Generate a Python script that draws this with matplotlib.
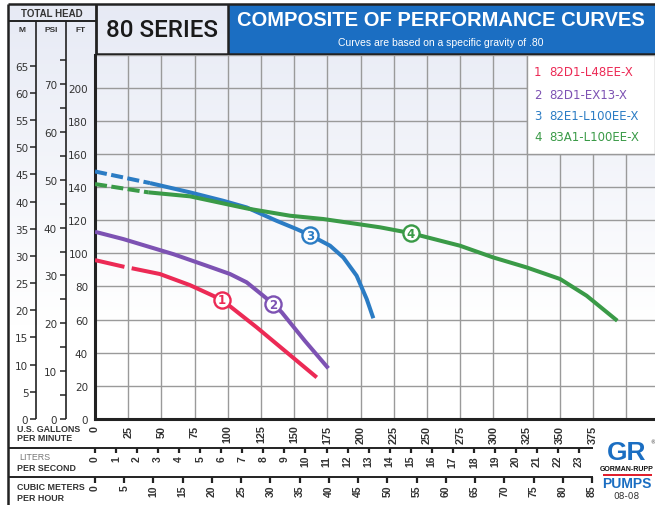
import numpy as np
import matplotlib
matplotlib.use("Agg")
import matplotlib.pyplot as plt
from matplotlib.patches import Rectangle

W, H = 655, 506  # 픽셀 단위 캔버스

# 축 눈금
gpm_ticks = list(range(0, 376, 25))
gpm_grid = list(range(25, 401, 25))
ft_ticks = list(range(0, 201, 20))
ft_grid = list(range(20, 221, 20))
psi_major = list(range(0, 71, 10))
psi_minor = list(range(5, 76, 10))
m_ticks = list(range(0, 66, 5))
ls_ticks = list(range(0, 24))
m3h_ticks = list(range(0, 86, 5))

# 단위 환산 (비중 0.80 기준)
SG = 0.80
FT_PER_M = 3.281
FT_PER_PSI = 2.31 / SG
GPM_PER_LS = 15.85
GPM_PER_M3H = 4.403

# 곡선 데이터 (GPM, FT) - 그림에서 읽은 값
red_gpm = [0, 23.9, 27.6, 48.9, 71.5, 95.4, 121.8, 146.8, 167.0]
red_ft = [95.9, 91.5, 91.0, 87.5, 80.8, 72.0, 55.3, 38.6, 25.1]
purple_gpm = [0, 21.3, 59.0, 84.1, 101.7, 114.2, 126.7, 134.3, 140.6, 158.0, 175.7]
purple_ft = [113.0, 108.6, 99.5, 92.5, 87.5, 82.5, 74.4, 69.4, 64.4, 47.2, 30.6]
blue_gpm = [0, 41.4, 71.5, 96.6, 114.2, 136.8, 151.9, 161.9, 177.0, 187.0, 197.0, 204.6, 209.6]
blue_ft = [149.4, 142.4, 136.8, 131.7, 127.7, 119.6, 114.6, 111.0, 104.6, 97.5, 86.5, 72.4, 60.8]
green_gpm = [0, 40.1, 71.5, 114.2, 146.8, 171.9, 214.6, 237.7, 274.8, 299.9, 325.0, 350.2, 370.2, 393.3]
green_ft = [141.8, 136.8, 134.4, 127.1, 122.7, 120.7, 115.7, 112.2, 104.6, 97.5, 91.5, 84.5, 74.4, 59.3]

curve_gpm = [red_gpm, purple_gpm, blue_gpm, green_gpm]
curve_ft = [red_ft, purple_ft, blue_ft, green_ft]
names = ["82D1-L48EE-X", "82D1-EX13-X", "82E1-L100EE-X", "83A1-L100EE-X"]
colors = ["#ec2a55", "#7d52b3", "#2b7cc4", "#3a9a47"]
dash_stop = [1, 0, 1, 1]     # 앞쪽 점선 구간 끝 인덱스
solid_start = [2, 0, 1, 1]   # 실선 시작 인덱스
label_gpm = [95.4, 134.3, 161.9, 237.7]

BLUE = "#1b6ec2"
DARK = "#222222"
TXT = "#333333"
GRID = "#9a9a9a"
COND = ["Liberation Sans Narrow", "Liberation Sans"]

plt.rcParams["font.family"] = "DejaVu Sans"

fig = plt.figure(figsize=(W / 100, H / 100), dpi=100)
fig.patch.set_facecolor("white")

# 배경 + 테두리 (픽셀 좌표)
bg = fig.add_axes([0, 0, 1, 1])
t = np.linspace(0, 1, 200)[:, None, None]
top = np.array([0.905, 0.918, 0.960])
grad = top + (1 - top) * np.clip(t * 1.3, 0, 1)
bg.imshow(grad, extent=[8, 655, 420, 5], aspect="auto", interpolation="bilinear")
bg.set_xlim(0, W)
bg.set_ylim(H, 0)
bg.axis("off")

def seg(x0, y0, x1, y1, lw=1.4, color=DARK):
    bg.plot([x0, x1], [y0, y1], color=color, lw=lw, solid_capstyle="butt")

bg.add_patch(Rectangle((228, 5), 427, 49.5, fc=BLUE, ec="none"))
seg(8, 5, 655, 5, 1.8)
seg(8, 5, 8, 506, 1.8)
seg(8, 22, 96, 22, 1.4)
seg(36, 22, 36, 420, 1.2)
seg(66, 22, 66, 420, 1.2)
seg(95.5, 5, 95.5, 56, 2.0)
seg(228, 5, 228, 55, 1.8)
seg(95.5, 54.5, 655, 54.5, 1.8)
seg(8, 449, 593, 449, 1.4)
seg(8, 478, 593, 478, 1.4)

bg.text(52, 13.5, "TOTAL HEAD", ha="center", va="center", fontsize=7, fontweight="bold",
        color=TXT, family="Liberation Sans")
for x, s in [(22, "M"), (51, "PSI"), (81, "FT")]:
    bg.text(x, 30, s, ha="center", va="center", fontsize=6, fontweight="bold",
            color=TXT, family="Liberation Sans")
bg.text(162, 30, "80 SERIES", ha="center", va="center", fontsize=17.5, fontweight=500,
        color="#1a1a1a", family=["Roboto", "Liberation Sans"])
bg.text(441, 20, "COMPOSITE OF PERFORMANCE CURVES", ha="center", va="center", fontsize=14.5,
        fontweight="bold", color="white", family="Liberation Sans")
bg.text(441, 43, "Curves are based on a specific gravity of .80", ha="center", va="center",
        fontsize=7.5, color="white", family="Liberation Sans")

# 하단 좌측 라벨
lab = dict(ha="left", va="center", fontsize=6.4, fontweight="bold", color=TXT, family=COND)
bg.text(17, 430, "U.S. GALLONS", **lab)
bg.text(17, 439, "PER MINUTE", **lab)
bg.text(19, 458, "LITERS", ha="left", va="center", fontsize=6.4, color="#777777", family=COND)
bg.text(17, 469, "PER SECOND", **lab)
bg.text(17, 488, "CUBIC METERS", **lab)
bg.text(17, 499, "PER HOUR", **lab)

# 로고
bg.text(627, 453, "GR", ha="center", va="center", fontsize=19, fontweight="bold",
        color=BLUE, family="Liberation Sans")
bg.text(653, 443, "®", ha="center", va="center", fontsize=3.5, color=TXT)
bg.text(627, 470, "GORMAN-RUPP", ha="center", va="center", fontsize=5, fontweight="bold",
        color="#111111", family=COND)
bg.add_patch(Rectangle((603, 474.5), 49, 2.5, fc="#e0202f", ec="none"))
bg.text(627, 484.5, "PUMPS", ha="center", va="center", fontsize=10, fontweight="bold",
        color=BLUE, family="Liberation Sans")
bg.text(627, 497, "08-08", ha="center", va="center", fontsize=6.5, color=TXT)

# 메인 그래프
y_top = 55.5
ax = fig.add_axes([95 / W, 1 - 420 / H, (655 - 95) / W, (420 - y_top) / H])
ax.patch.set_alpha(0)
xmax = (655 - 95) / 1.328
ax.set_xlim(0, xmax)
ax.set_ylim(0, 220)
ax.vlines(gpm_grid, 0, 220, color=GRID, lw=1.0, zorder=1)
ax.hlines(ft_grid, 0, xmax, color=GRID, lw=1.0, zorder=1)
ax.add_patch(Rectangle((325, 160), xmax - 325, 60, fc="white", ec=GRID, lw=1.0, zorder=2))

for i in range(4):
    g, f, c = curve_gpm[i], curve_ft[i], colors[i]
    k, s = dash_stop[i], solid_start[i]
    if k > 0:
        dash = (7.5, 1.6) if i == 0 else (3.0, 1.1)
        ax.plot(g[:k + 1], f[:k + 1], color=c, lw=2.9, linestyle=(0, dash),
                dash_capstyle="butt", zorder=3)
    ax.plot(g[s:], f[s:], color=c, lw=2.9, solid_joinstyle="round",
            solid_capstyle="butt", zorder=3)
    fy_lab = np.interp(label_gpm[i], g, f)
    ax.scatter([label_gpm[i]], [fy_lab], s=135, fc="white", ec=c, lw=1.7, zorder=5)
    ax.text(label_gpm[i], fy_lab, str(i + 1), ha="center", va="center", fontsize=8.5,
            fontweight="bold", color=c, zorder=6)

for sp in ["top", "right"]:
    ax.spines[sp].set_visible(False)
for sp in ["left", "bottom"]:
    ax.spines[sp].set_linewidth(2.2)
    ax.spines[sp].set_color(DARK)
ax.spines["bottom"].set_zorder(4)

ax.set_yticks(ft_ticks)
ax.tick_params(axis="y", length=0, pad=5, labelsize=7.5, labelcolor=TXT)
ax.set_xticks(gpm_ticks)
ax.set_xticklabels([str(v) for v in gpm_ticks], rotation=90, fontsize=7.8,
                   fontweight="bold", color=TXT, family=COND)
ax.tick_params(axis="x", length=0, pad=4)

# M / PSI 눈금축
def side_axis(px, ymax):
    a = fig.add_axes([px / W, 1 - 420 / H, 1 / W, (420 - y_top) / H])
    a.patch.set_alpha(0)
    a.set_ylim(0, ymax)
    a.set_xticks([])
    for sp in a.spines.values():
        sp.set_visible(False)
    return a

ax_m = side_axis(36, 220 / FT_PER_M)
ax_m.set_yticks(m_ticks)
ax_m.tick_params(axis="y", direction="out", length=4.5, width=1.1, color=DARK, pad=1,
                 labelsize=7.5, labelcolor=TXT)

ax_p = side_axis(66, 220 / FT_PER_PSI)
ax_p.set_yticks(psi_major)
ax_p.set_yticks(psi_minor, minor=True)
ax_p.tick_params(axis="y", which="both", direction="out", length=4.5, width=1.1, color=DARK,
                 pad=2, labelsize=7.5, labelcolor=TXT)

# L/s, m3/h 보조축
def flow_axis(py, ticks, factor, tick_len):
    a = fig.add_axes([95 / W, 1 - py / H, (655 - 95) / W, 0.001])
    a.patch.set_alpha(0)
    a.set_xlim(0, xmax)
    a.set_yticks([])
    for sp in a.spines.values():
        sp.set_visible(False)
    a.set_xticks([v * factor for v in ticks])
    a.set_xticklabels([str(v) for v in ticks], rotation=90, fontsize=7.5,
                      fontweight="bold", color=TXT, family=COND)
    a.tick_params(axis="x", direction="out", length=tick_len, width=1.6, color=DARK, pad=1.5)
    return a

flow_axis(449, ls_ticks, GPM_PER_LS, 3.5)
flow_axis(478, m3h_ticks, GPM_PER_M3H, 4.0)

# 범례 (맨 위 레이어)
ov = fig.add_axes([0, 0, 1, 1])
ov.patch.set_alpha(0)
ov.set_xlim(0, W)
ov.set_ylim(H, 0)
ov.axis("off")
for i, (nm, c) in enumerate(zip(names, colors)):
    y = [72, 95, 116, 137][i]
    ov.text(534, y, str(i + 1), ha="left", va="center", fontsize=8.5, color=c)
    ov.text(549, y, nm, ha="left", va="center", fontsize=8.5, color=c)

fig.savefig("out.png", dpi=100)
